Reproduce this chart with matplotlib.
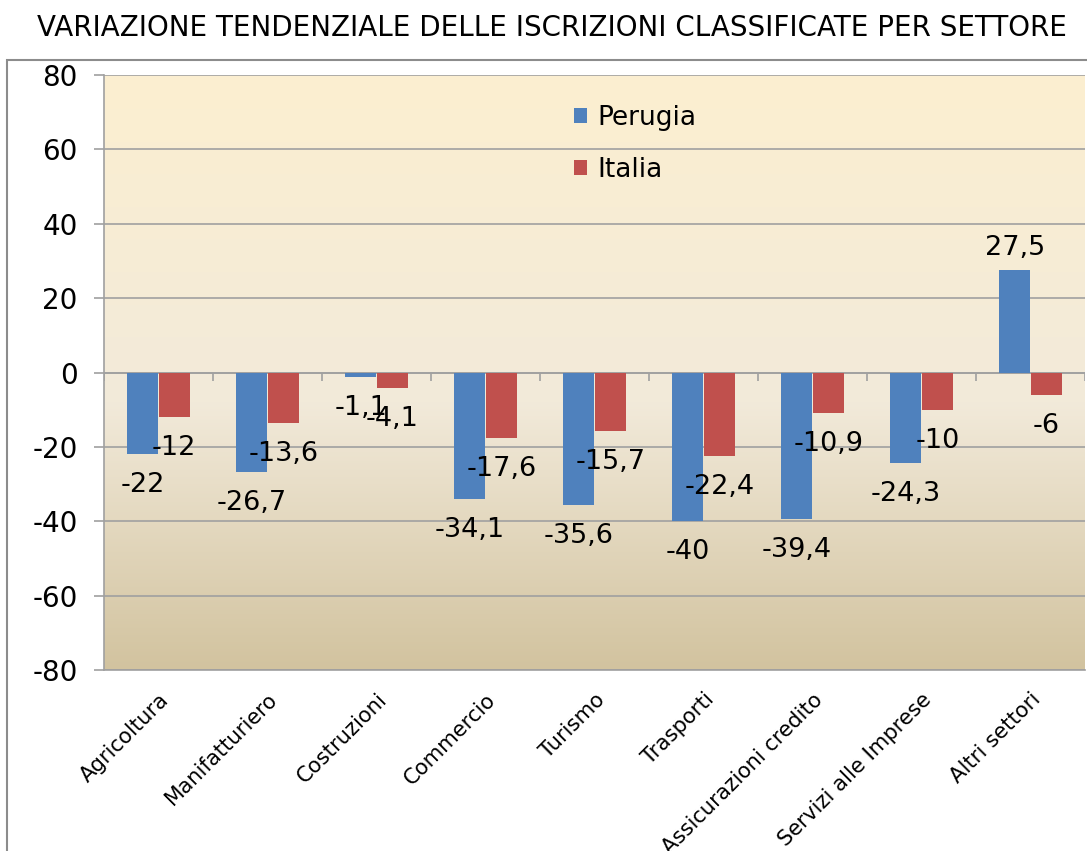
import matplotlib.pyplot as plt
import numpy as np
from matplotlib.colors import LinearSegmentedColormap
from matplotlib.patches import Rectangle

settori = ["Agricoltura", "Manifatturiero", "Costruzioni", "Commercio", "Turismo",
           "Trasporti", "Assicurazioni credito", "Servizi alle Imprese", "Altri settori"]
perugia = [-22, -26.7, -1.1, -34.1, -35.6, -40, -39.4, -24.3, 27.5]
italia = [-12, -13.6, -4.1, -17.6, -15.7, -22.4, -10.9, -10, -6]
y_ticks = [-80, -60, -40, -20, 0, 20, 40, 60, 80]

plt.rcParams["font.family"] = "DejaVu Sans"

fig = plt.figure(figsize=(10.87, 8.51), dpi=100)
ax = fig.add_axes([104 / 1087, 1 - 670 / 851, 981 / 1087, 595 / 851])

# outer chart frame
fig.patches.append(Rectangle((7 / 1087, -0.1), 1.2, 1 - 60 / 851 + 0.1,
                             transform=fig.transFigure, fill=False,
                             edgecolor="#8c8c8c", lw=1.5, zorder=0))

# plot area gradient
cmap = LinearSegmentedColormap.from_list(
    "bg", [(0, "#fcefd0"), (0.55, "#f2eada"), (1, "#d2c39f")])
grad = np.linspace(0, 1, 256).reshape(-1, 1)
ax.imshow(grad, cmap=cmap, aspect="auto", extent=[0, 1, 0, 1],
          transform=ax.transAxes, zorder=0)

x = np.arange(len(settori))
w = 0.285
b1 = ax.bar(x - 0.145, perugia, w, color="#4f81bd", label="Perugia", zorder=3)
b2 = ax.bar(x + 0.145, italia, w, color="#c0504d", label="Italia", zorder=3)

for bars, vals in [(b1, perugia), (b2, italia)]:
    for rect, v in zip(bars, vals):
        txt = f"{v:g}".replace(".", ",")
        cx = rect.get_x() + rect.get_width() / 2
        if v < 0:
            ax.annotate(txt, (cx, v), xytext=(0, -13), textcoords="offset points",
                        ha="center", va="top", fontsize=19.5, zorder=5)
        else:
            ax.annotate(txt, (cx, v), xytext=(0, 7), textcoords="offset points",
                        ha="center", va="bottom", fontsize=19.5, zorder=5)

ax.set_xlim(-0.5, len(settori) - 0.5)
ax.set_ylim(-80, 80)
ax.set_yticks(y_ticks)
ax.set_yticklabels([str(t) for t in y_ticks], fontsize=20)
ax.yaxis.grid(True, color="#a0a0a0", lw=1.2, zorder=1)
ax.set_axisbelow(True)
ax.tick_params(axis="y", length=7, color="#a0a0a0", width=1.2, pad=12)

ax.set_xticks(x)
ax.set_xticklabels(settori, rotation=45, ha="right", rotation_mode="anchor", fontsize=15.2)
ax.tick_params(axis="x", length=0, pad=14)

# category ticks on the zero line
ax.axhline(0, color="#a0a0a0", lw=1.2, zorder=2)
ax.vlines(np.arange(len(settori) + 1) - 0.5, -2.2, 0, color="#a0a0a0", lw=1.2, zorder=2)

for s in ["top", "right"]:
    ax.spines[s].set_visible(False)
ax.spines["left"].set_color("#a0a0a0")
ax.spines["left"].set_linewidth(1.2)
ax.spines["bottom"].set_color("#a0a0a0")
ax.spines["bottom"].set_linewidth(1.2)

ax.legend(loc="upper left", bbox_to_anchor=(0.455, 0.99), frameon=False, fontsize=19,
          handlelength=0.5, handleheight=0.5, handletextpad=0.4, labelspacing=1.0)

fig.text(0.508, 1 - 28 / 851, "VARIAZIONE TENDENZIALE DELLE ISCRIZIONI CLASSIFICATE PER SETTORE",
         ha="center", va="center", fontsize=20)

fig.savefig("out.png", dpi=100)
